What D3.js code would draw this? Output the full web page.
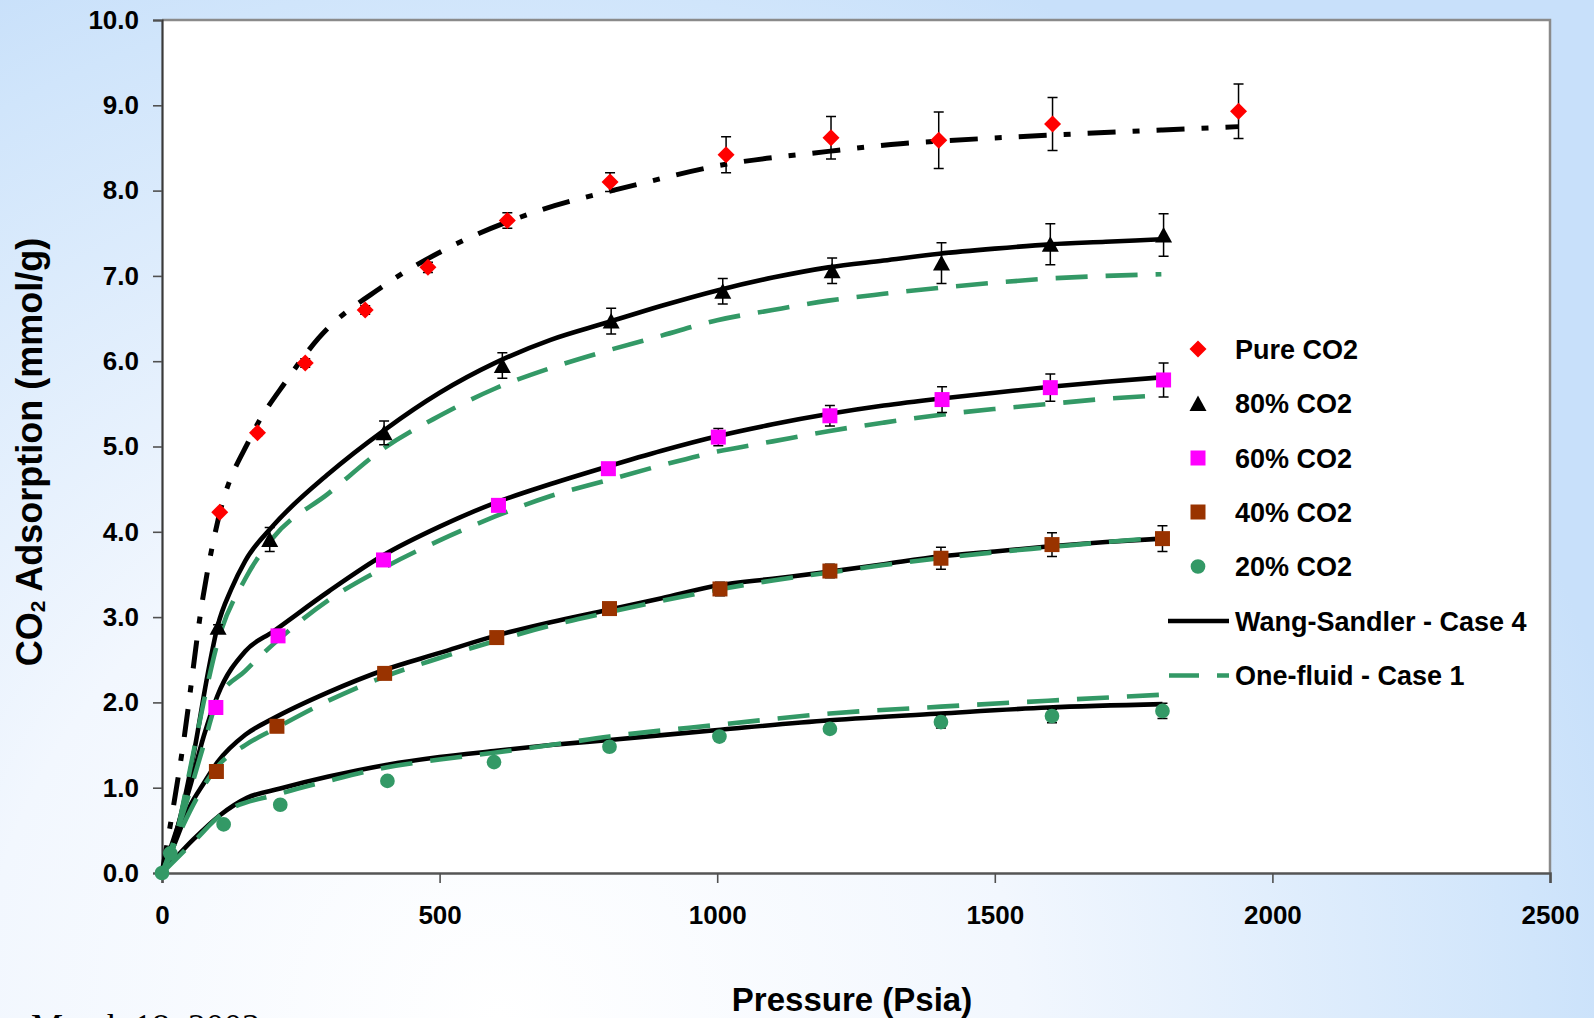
<!DOCTYPE html>
<html>
<head>
<meta charset="utf-8">
<script src="https://cdn.jsdelivr.net/npm/d3@7"></script>
<style>
  html, body { margin: 0; padding: 0; overflow: hidden; background: #ffffff; }
  svg { display: block; }
  text { font-family: "Liberation Sans", Arial, sans-serif; font-weight: bold; fill: #000; }
</style>
</head>
<body>
<svg id="chart" width="1594" height="1018"></svg>
<script>
// ---------------- measured adsorption (pressure psia, uptake mmol/g, error) ----------------
const purePressure = [104, 172, 258, 366, 479, 622, 807, 1016, 1205, 1399, 1604, 1939];
const pureUptake   = [4.23, 5.16, 5.98, 6.60, 7.10, 7.65, 8.10, 8.42, 8.62, 8.59, 8.78, 8.93];
const pureError    = [0.02, 0.03, 0.05, 0.05, 0.06, 0.09, 0.11, 0.21, 0.25, 0.33, 0.31, 0.32];

const mix80Pressure = [101, 194, 400, 613, 809, 1010, 1207, 1404, 1600, 1804];
const mix80Uptake   = [2.88, 3.91, 5.16, 5.95, 6.47, 6.82, 7.06, 7.15, 7.37, 7.48];
const mix80Error    = [0.03, 0.14, 0.14, 0.15, 0.15, 0.15, 0.15, 0.24, 0.24, 0.25];

const mix60Pressure = [97, 209, 399, 606, 804, 1002, 1203, 1405, 1600, 1804];
const mix60Uptake   = [1.94, 2.78, 3.67, 4.31, 4.74, 5.11, 5.36, 5.55, 5.69, 5.78];
const mix60Error    = [0.03, 0.05, 0.07, 0.06, 0.06, 0.10, 0.12, 0.15, 0.16, 0.20];

const mix40Pressure = [98, 207, 401, 603, 806, 1005, 1203, 1403, 1603, 1802];
const mix40Uptake   = [1.19, 1.72, 2.34, 2.76, 3.10, 3.33, 3.54, 3.69, 3.85, 3.92];
const mix40Error    = [0.03, 0.04, 0.05, 0.05, 0.05, 0.08, 0.08, 0.13, 0.14, 0.15];

const mix20Pressure = [0, 15, 111, 213, 406, 598, 806, 1004, 1203, 1403, 1603, 1802];
const mix20Uptake   = [0, 0.23, 0.57, 0.80, 1.08, 1.30, 1.48, 1.60, 1.69, 1.77, 1.84, 1.90];
const mix20Error    = [0, 0, 0.02, 0.03, 0.03, 0.03, 0.04, 0.05, 0.05, 0.07, 0.08, 0.09];

// ---------------- model curves ----------------
// pure CO2 fit (dash-dot)
const pureFitPressure = [0, 38, 74, 101, 159, 225, 282, 396, 513, 663, 855, 1000, 1200, 1330, 1400, 1600, 1800, 1939];
const pureFitUptake   = [0, 1.50, 3.24, 4.14, 5.10, 5.78, 6.27, 6.87, 7.32, 7.73, 8.07, 8.29, 8.46, 8.55, 8.58, 8.65, 8.71, 8.75];

// Wang-Sandler - Case 4 (solid black)
const wsPressure80 = [0, 20, 40, 60, 80, 100, 125, 150, 200, 300, 400, 500, 600, 700, 800, 900, 1000, 1100, 1200, 1300, 1400, 1500, 1600, 1700, 1800];
const wsUptake80   = [0, 0.35, 0.85, 1.5, 2.25, 2.89, 3.33, 3.66, 4.07, 4.68, 5.19, 5.63, 5.98, 6.25, 6.45, 6.65, 6.83, 6.98, 7.10, 7.18, 7.26, 7.32, 7.37, 7.40, 7.43];
const wsPressure60 = [0, 20, 50, 75, 100, 150, 200, 300, 400, 500, 600, 700, 800, 900, 1000, 1100, 1200, 1300, 1400, 1500, 1600, 1700, 1800];
const wsUptake60   = [0, 0.38, 1.0, 1.6, 2.08, 2.60, 2.83, 3.30, 3.73, 4.06, 4.34, 4.56, 4.76, 4.95, 5.12, 5.26, 5.38, 5.48, 5.56, 5.63, 5.70, 5.76, 5.81];
const wsPressure40 = [0, 20, 50, 75, 100, 150, 200, 300, 400, 500, 600, 700, 800, 900, 1000, 1100, 1200, 1300, 1400, 1500, 1600, 1700, 1800];
const wsUptake40   = [0, 0.30, 0.78, 1.05, 1.30, 1.62, 1.81, 2.12, 2.38, 2.58, 2.78, 2.94, 3.08, 3.22, 3.37, 3.45, 3.53, 3.62, 3.71, 3.77, 3.83, 3.88, 3.92];
const wsPressure20 = [0, 56, 105, 153, 213, 300, 406, 500, 598, 700, 806, 1006, 1203, 1403, 1596, 1802];
const wsUptake20   = [0, 0.39, 0.68, 0.88, 0.99, 1.13, 1.27, 1.36, 1.43, 1.50, 1.56, 1.68, 1.79, 1.87, 1.94, 1.98];

// One-fluid - Case 1 (green dashed)
const ofPressure80 = [0, 20, 50, 75, 100, 150, 200, 300, 400, 500, 600, 700, 800, 900, 1000, 1100, 1200, 1300, 1400, 1500, 1600, 1700, 1800];
const ofUptake80   = [0, 0.30, 1.20, 2.00, 2.70, 3.45, 3.93, 4.45, 4.98, 5.36, 5.68, 5.92, 6.12, 6.30, 6.48, 6.60, 6.71, 6.79, 6.86, 6.92, 6.97, 7.00, 7.02];
const ofPressure60 = [0, 20, 50, 75, 100, 150, 200, 300, 400, 500, 600, 700, 800, 900, 1000, 1100, 1200, 1300, 1400, 1500, 1600, 1700, 1800];
const ofUptake60   = [0, 0.35, 0.95, 1.50, 2.03, 2.37, 2.68, 3.20, 3.58, 3.90, 4.18, 4.42, 4.60, 4.78, 4.94, 5.06, 5.18, 5.28, 5.37, 5.44, 5.50, 5.56, 5.60];
const ofPressure40 = [0, 20, 50, 100, 150, 200, 300, 400, 500, 600, 700, 800, 900, 1000, 1100, 1200, 1300, 1400, 1500, 1600, 1700, 1800];
const ofUptake40   = [0, 0.30, 0.72, 1.25, 1.50, 1.68, 2.02, 2.30, 2.52, 2.72, 2.90, 3.05, 3.19, 3.32, 3.43, 3.52, 3.61, 3.69, 3.76, 3.82, 3.88, 3.93];
const ofPressure20 = [0, 56, 110, 213, 300, 406, 500, 598, 700, 806, 1006, 1203, 1403, 1596, 1802];
const ofUptake20   = [0, 0.36, 0.70, 0.93, 1.08, 1.24, 1.33, 1.41, 1.50, 1.60, 1.74, 1.87, 1.95, 2.02, 2.09];

// ---------------- axes and legend text ----------------
const xTicks = [0, 500, 1000, 1500, 2000, 2500];
const yTicks = [0, 1, 2, 3, 4, 5, 6, 7, 8, 9, 10];
const xTitle = "Pressure (Psia)";
const legendLabels = ["Pure CO2", "80% CO2", "60% CO2", "40% CO2", "20% CO2", "Wang-Sandler - Case 4", "One-fluid - Case 1"];
const footerText = "March 18, 2003";

// ---------------- drawing ----------------
const W = 1594, H = 1018;
const svg = d3.select("#chart");
const defs = svg.append("defs");

const bg = defs.append("radialGradient").attr("id", "bg")
  .attr("gradientUnits", "userSpaceOnUse")
  .attr("cx", 500).attr("cy", 1018).attr("r", 1150);
bg.append("stop").attr("offset", 0).attr("stop-color", "#ffffff");
bg.append("stop").attr("offset", 0.45).attr("stop-color", "#f2f7fe");
bg.append("stop").attr("offset", 0.9).attr("stop-color", "#d0e5fb");
bg.append("stop").attr("offset", 1).attr("stop-color", "#c8e0fa");
svg.append("rect").attr("width", W).attr("height", H).attr("fill", "url(#bg)");

const x = d3.scaleLinear().domain([0, 2500]).range([162, 1550]);
const y = d3.scaleLinear().domain([0, 10]).range([873, 20]);

// plot area
svg.append("rect")
  .attr("x", x(0)).attr("y", y(10))
  .attr("width", x(2500) - x(0)).attr("height", y(0) - y(10))
  .attr("fill", "#ffffff");
svg.append("path")
  .attr("d", `M${x(0)},${y(10)}H${x(2500)}V${y(0)}`)
  .attr("fill", "none").attr("stroke", "#8a8a8a").attr("stroke-width", 2.5);

// axes
const yAxis = svg.append("g").attr("transform", `translate(${x(0)},0)`)
  .call(d3.axisLeft(y).tickValues(yTicks).tickFormat(d3.format(".1f")).tickSize(9).tickPadding(14));
const xAxis = svg.append("g").attr("transform", `translate(0,${y(0)})`)
  .call(d3.axisBottom(x).tickValues(xTicks).tickFormat(d3.format("d")).tickSize(10).tickPadding(23));
[yAxis, xAxis].forEach(g => {
  g.selectAll("text").style("font-size", "26px").attr("fill", "#000");
  g.selectAll(".tick line").attr("stroke", "#505050").attr("stroke-width", 1.6);
  g.select(".domain").attr("stroke", "#3a3a3a").attr("stroke-width", 2.2);
});
xAxis.select(".domain").attr("stroke", "#555").attr("stroke-width", 2.6);

// axis titles
svg.append("text").attr("x", 852).attr("y", 1011).attr("text-anchor", "middle")
  .style("font-size", "33px").text(xTitle);
const yt = svg.append("text").attr("transform", "translate(42,452) rotate(-90)")
  .attr("text-anchor", "middle").style("font-size", "36px");
yt.append("tspan").text("CO");
yt.append("tspan").attr("dy", 3).style("font-size", "21px").text("2");
yt.append("tspan").attr("dy", -3).text(" Adsorption (mmol/g)");

// model lines
const zip = (a, b) => a.map((v, i) => [v, b[i]]);
const line = d3.line().x(d => x(d[0])).y(d => y(d[1])).curve(d3.curveMonotoneX);
const lines = svg.append("g").attr("fill", "none").attr("stroke-linecap", "butt").attr("stroke-linejoin", "round");

lines.append("path").attr("d", line(zip(pureFitPressure, pureFitUptake)))
  .attr("stroke", "#000").attr("stroke-width", 5).attr("stroke-dasharray", "28 17 7 17");

[[wsPressure80, wsUptake80], [wsPressure60, wsUptake60], [wsPressure40, wsUptake40], [wsPressure20, wsUptake20]]
  .forEach(([p, q]) => lines.append("path").attr("d", line(zip(p, q)))
    .attr("stroke", "#000").attr("stroke-width", 4.6));

[[ofPressure80, ofUptake80], [ofPressure60, ofUptake60], [ofPressure40, ofUptake40], [ofPressure20, ofUptake20]]
  .forEach(([p, q]) => lines.append("path").attr("d", line(zip(p, q)))
    .attr("stroke", "#339966").attr("stroke-width", 4.6).attr("stroke-dasharray", "32 18"));

// markers
const shapes = {
  diamond: "M0,-8.5L8.5,0L0,8.5L-8.5,0Z",
  triangle: "M0,-8L8.5,7.5L-8.5,7.5Z",
  square: "M-7.5,-7.5H7.5V7.5H-7.5Z",
  circle: d3.symbol(d3.symbolCircle, 170)()
};
const series = [
  { p: purePressure, v: pureUptake, e: pureError, shape: "diamond", color: "#ff0000" },
  { p: mix80Pressure, v: mix80Uptake, e: mix80Error, shape: "triangle", color: "#000000" },
  { p: mix60Pressure, v: mix60Uptake, e: mix60Error, shape: "square", color: "#ff00ff" },
  { p: mix40Pressure, v: mix40Uptake, e: mix40Error, shape: "square", color: "#993300" },
  { p: mix20Pressure, v: mix20Uptake, e: mix20Error, shape: "circle", color: "#339966" }
];

series.forEach(s => {
  const pts = s.p.map((p, i) => ({ p, v: s.v[i], e: s.e[i] }));
  const eb = svg.append("g").attr("stroke", "#000").attr("stroke-width", 1.5);
  pts.filter(d => d.e > 0).forEach(d => {
    const cx = x(d.p), y1 = y(d.v + d.e), y2 = y(d.v - d.e);
    eb.append("path").attr("d", `M${cx},${y1}V${y2}M${cx - 5},${y1}H${cx + 5}M${cx - 5},${y2}H${cx + 5}`);
  });
  svg.append("g").selectAll("path").data(pts).join("path")
    .attr("d", shapes[s.shape])
    .attr("transform", d => `translate(${x(d.p)},${y(d.v)})`)
    .attr("fill", s.color);
});

// legend
const legend = svg.append("g");
const rowY = [349, 403.5, 458, 512, 566.5, 621, 675.5];
series.forEach((s, i) => {
  legend.append("path").attr("d", shapes[s.shape])
    .attr("transform", `translate(1198,${rowY[i]})`).attr("fill", s.color);
});
legend.append("line").attr("x1", 1168).attr("x2", 1229).attr("y1", rowY[5]).attr("y2", rowY[5])
  .attr("stroke", "#000").attr("stroke-width", 4.6);
legend.append("line").attr("x1", 1169).attr("x2", 1229).attr("y1", rowY[6]).attr("y2", rowY[6])
  .attr("stroke", "#339966").attr("stroke-width", 4.6).attr("stroke-dasharray", "30 18");
legendLabels.forEach((t, i) => {
  legend.append("text").attr("x", 1235).attr("y", rowY[i] + 9.7).style("font-size", "27px").text(t);
});

// footer date along the bottom edge of the slide
svg.append("text").attr("x", 31).attr("y", 1039)
  .style("font-family", "'Liberation Serif', 'Times New Roman', serif")
  .style("font-weight", "normal").style("font-size", "36px").attr("fill", "#000")
  .text(footerText);
</script>
</body>
</html>
